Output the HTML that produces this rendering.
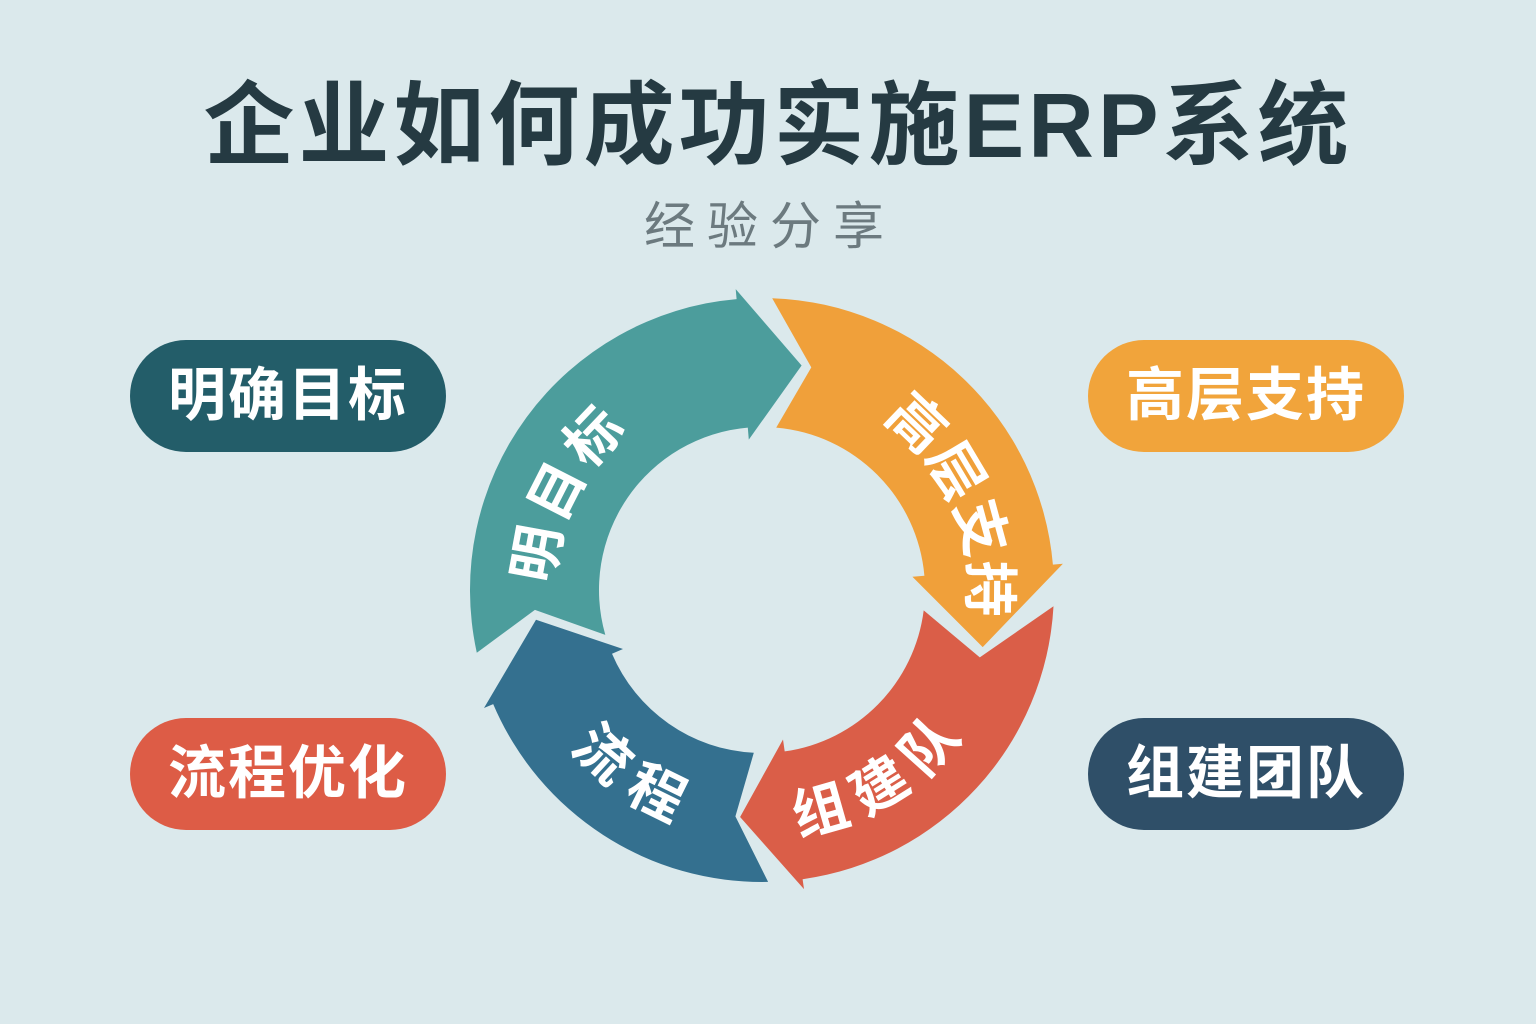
<!DOCTYPE html>
<html><head><meta charset="utf-8">
<style>
html,body{margin:0;padding:0}
body{width:1536px;height:1024px;background:#dbe9ec;position:relative;overflow:hidden;font-family:"Liberation Sans","Noto Sans CJK SC",sans-serif}
.title{position:absolute;left:0;width:1556px;top:72px;text-align:center;font-size:91px;font-weight:700;color:#253a42;line-height:110px;white-space:nowrap;letter-spacing:4px}
.sub{position:absolute;left:0;width:1540px;top:192px;text-align:center;font-size:51px;color:#6c7a7f;letter-spacing:12px;line-height:70px}
.pill{position:absolute;width:316px;height:112px;border-radius:56px;color:#fff;font-size:58px;font-weight:700;text-align:center;line-height:112px;letter-spacing:2px}
</style></head><body>
<div class="title">企业如何成功实施ERP系统</div>
<div class="sub">经验分享</div>
<div class="pill" style="left:130px;top:340px;background:#235d69">明确目标</div>
<div class="pill" style="left:1088px;top:340px;background:#f1a43b">高层支持</div>
<div class="pill" style="left:130px;top:718px;background:#dd5c46">流程优化</div>
<div class="pill" style="left:1088px;top:718px;background:#2f4f68">组建团队</div>
<svg width="1536" height="1024" style="position:absolute;left:0;top:0">
<defs>
<path id="p1" d=""/><path id="p2" d=""/><path id="p3" d=""/><path id="p4" d=""/>
</defs>
<path id="s1" fill="#4c9d9c" d=""/>
<path id="s2" fill="#f0a03a" d=""/>
<path id="s3" fill="#da5e48" d=""/>
<path id="s4" fill="#34708f" d=""/>
<g fill="#fff" font-size="56" font-weight="700" font-family="Liberation Sans,Noto Sans CJK SC,sans-serif">
<text dominant-baseline="central" text-anchor="middle" letter-spacing="10"><textPath href="#p1" startOffset="50%">明目标</textPath></text>
<text dominant-baseline="central" text-anchor="middle" letter-spacing="6"><textPath href="#p2" startOffset="50%">高层支持</textPath></text>
<text dominant-baseline="central" text-anchor="middle" letter-spacing="8"><textPath href="#p3" startOffset="50%">组建队</textPath></text>
<text dominant-baseline="central" text-anchor="middle" letter-spacing="10"><textPath href="#p4" startOffset="50%">流程</textPath></text>
</g>
</svg>
<script>
var cx=762,cy=590,R=292,r=163,m=228;
function P(a,rad){var t=a*Math.PI/180;return (cx+rad*Math.cos(t)).toFixed(1)+' '+(cy+rad*Math.sin(t)).toFixed(1);}
function seg(a0o,a0i,an,ab,at){
 return 'M'+P(a0o,R)+' A'+R+' '+R+' 0 0 1 '+P(ab,R)+' L'+P(ab,R+10)+' L'+P(at,m)+' L'+P(ab,r-12)+' L'+P(ab,r)+
 ' A'+r+' '+r+' 0 0 0 '+P(a0i,r)+' L'+P(an,m)+' Z';
}
document.getElementById('s1').setAttribute('d',seg(167.6,164,175,265,280));
document.getElementById('s2').setAttribute('d',seg(272,275,282.5,355,374.5));
document.getElementById('s3').setAttribute('d',seg(363.2,367.2,377.2,82,95.5));
document.getElementById('s4').setAttribute('d',seg(88.8,92.9,96.7,157,172.5));
function arc(c,span,cw){
 var a0=cw?c-span:c+span,a1=cw?c+span:c-span;
 return 'M'+P(a0,m)+' A'+m+' '+m+' 0 0 '+(cw?1:0)+' '+P(a1,m);
}
document.getElementById('p1').setAttribute('d',arc(207,40,true));
document.getElementById('p2').setAttribute('d',arc(337,40,true));
document.getElementById('p3').setAttribute('d',arc(58,40,false));
document.getElementById('p4').setAttribute('d',arc(124.5,40,false));
</script>
</body></html>
